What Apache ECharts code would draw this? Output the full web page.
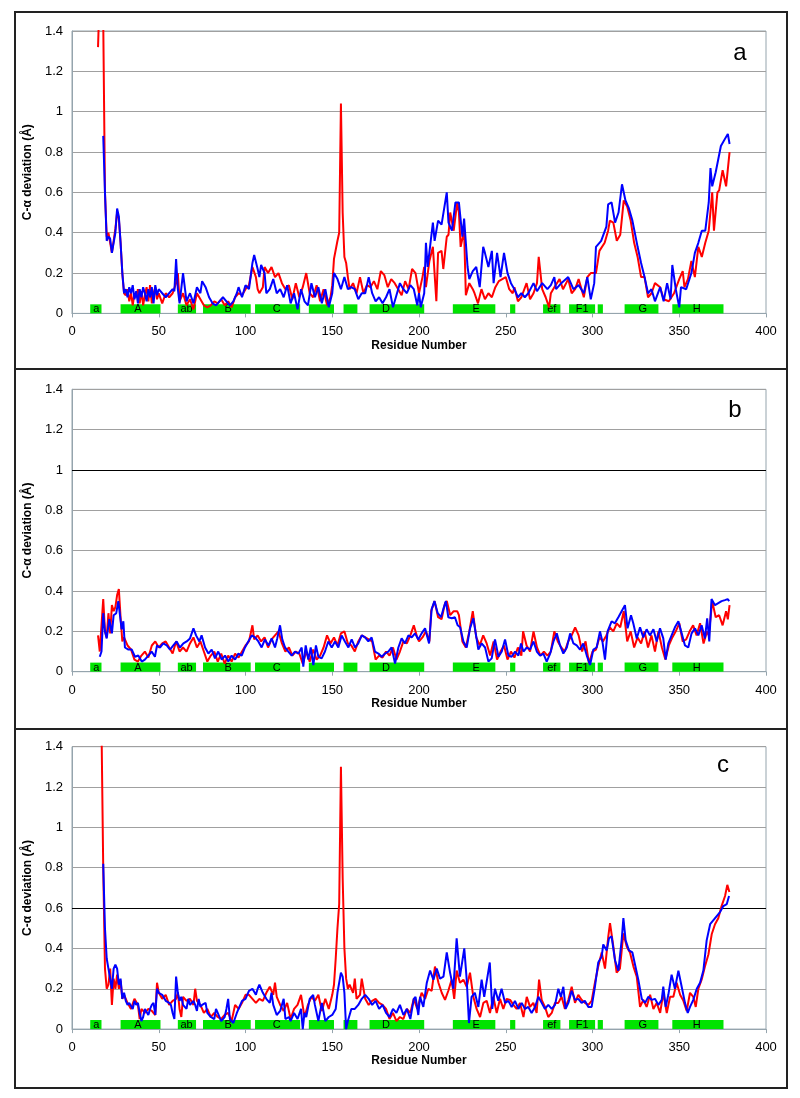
<!DOCTYPE html>
<html><head><meta charset="utf-8">
<script src="https://cdn.jsdelivr.net/npm/echarts@6/dist/echarts.min.js"></script>
<style>html,body{margin:0;padding:0;background:#fff}#c{width:800px;height:1098px}</style>
</head><body><div id="c"></div>
<script>
// Secondary structure elements: [start, end]
const ssRanges = [[10.5,17],[28,51],[61,71.5],[75.5,103],[105.5,131.5],[136.5,151],[156.5,164.5],[171.5,203],[219.5,244],[252.5,255.5],[271.5,281.5],[286.5,301.5],[303,306],[318.5,338],[346,375.5]];
const ssLabels = ['a','A','ab','B','C','','','D','E','','ef','F1','','G','H'];
const ssLabelX = [14,38,66,90,118,0,0,181,233,0,276.5,294,0,329,360];
const xTicks = [0,50,100,150,200,250,300,350,400];
const yTicks = [0,0.2,0.4,0.6,0.8,1,1.2,1.4];
const panelLetters = ['a','b','c'];

const aRed = [[15,1.32],[16,1.6],[17,1.6],[18,1.45],[19,0.6],[20,0.38],[21,0.4],[22,0.4],[23,0.3],[24,0.3],[25,0.42],[26,0.5],[27,0.47],[28,0.35],[29,0.2],[30,0.1],[31,0.09],[32,0.12],[33,0.06],[34,0.1],[35,0.04],[36,0.1],[37,0.08],[38,0.12],[39,0.05],[40,0.11],[41,0.04],[42,0.09],[43,0.13],[44,0.06],[45,0.14],[46,0.05],[47,0.1],[48,0.13],[49,0.07],[50,0.1],[52,0.05],[54,0.1],[56,0.08],[58,0.1],[60,0.15],[61,0.2],[62,0.06],[64,0.1],[66,0.04],[68,0.07],[70,0.02],[72,0.1],[74,0.07],[76,0.04],[78,0.03],[80,0.04],[82,0.06],[84,0.05],[86,0.07],[88,0.04],[90,0.06],[92,0.03],[94,0.08],[96,0.1],[98,0.09],[100,0.12],[102,0.14],[104,0.23],[106,0.18],[107,0.12],[108,0.1],[110,0.13],[111,0.23],[113,0.2],[115,0.23],[117,0.18],[119,0.2],[121,0.15],[123,0.12],[125,0.14],[127,0.07],[129,0.15],[131,0.08],[133,0.13],[135,0.2],[137,0.1],[139,0.08],[141,0.14],[143,0.06],[145,0.12],[147,0.04],[149,0.08],[150,0.14],[151,0.27],[152,0.27],[153,0.36],[154,0.4],[155,1.04],[156,0.5],[157,0.28],[158,0.25],[159,0.18],[160,0.12],[162,0.15],[164,0.1],[166,0.18],[168,0.1],[170,0.14],[172,0.13],[174,0.16],[176,0.12],[178,0.21],[180,0.19],[182,0.13],[184,0.17],[186,0.15],[188,0.12],[190,0.09],[192,0.16],[194,0.12],[196,0.22],[198,0.2],[200,0.1],[202,0.18],[203,0.23],[204,0.13],[206,0.26],[208,0.33],[210,0.06],[211,0.3],[213,0.31],[214,0.22],[216,0.38],[217,0.39],[218,0.5],[220,0.41],[222,0.55],[223,0.5],[224,0.33],[226,0.41],[227,0.09],[229,0.15],[231,0.12],[232,0.1],[234,0.05],[236,0.12],[238,0.07],[240,0.1],[242,0.08],[244,0.13],[246,0.16],[248,0.17],[250,0.18],[252,0.12],[254,0.1],[255,0.13],[257,0.06],[259,0.08],[262,0.15],[264,0.07],[266,0.1],[268,0.15],[269,0.28],[271,0.12],[273,0.08],[275,0.03],[276,0.1],[278,0.13],[281,0.17],[283,0.12],[286,0.17],[288,0.1],[290,0.12],[292,0.17],[295,0.08],[297,0.18],[299,0.2],[302,0.2],[304,0.31],[307,0.35],[309,0.41],[310,0.46],[312,0.45],[314,0.36],[316,0.39],[318,0.56],[320,0.53],[322,0.46],[324,0.35],[326,0.28],[328,0.18],[330,0.18],[332,0.08],[334,0.1],[336,0.15],[339,0.13],[341,0.07],[344,0.06],[347,0.1],[350,0.17],[352,0.21],[353,0.13],[355,0.17],[357,0.26],[359,0.18],[361,0.33],[363,0.28],[365,0.35],[367,0.41],[369,0.6],[370,0.41],[372,0.6],[373,0.61],[375,0.71],[377,0.63],[379,0.8]];
const aBlue = [[18,0.88],[19,0.6],[20,0.36],[21,0.38],[22,0.37],[23,0.3],[24,0.3],[25,0.4],[26,0.52],[27,0.48],[28,0.35],[29,0.2],[30,0.1],[31,0.12],[32,0.08],[33,0.13],[34,0.1],[35,0.14],[36,0.07],[37,0.11],[38,0.05],[39,0.12],[40,0.08],[41,0.13],[42,0.1],[43,0.06],[44,0.12],[45,0.08],[46,0.13],[47,0.05],[48,0.14],[49,0.09],[50,0.12],[52,0.1],[54,0.08],[56,0.1],[58,0.12],[59,0.11],[60,0.27],[61,0.12],[62,0.05],[64,0.2],[66,0.06],[68,0.1],[70,0.05],[72,0.13],[74,0.1],[75,0.16],[77,0.13],[79,0.08],[81,0.05],[83,0.04],[85,0.06],[87,0.08],[89,0.06],[91,0.04],[93,0.06],[95,0.1],[96,0.13],[98,0.08],[100,0.14],[102,0.12],[104,0.25],[105,0.29],[107,0.22],[108,0.18],[109,0.24],[111,0.2],[112,0.1],[114,0.12],[116,0.17],[118,0.1],[120,0.12],[122,0.08],[124,0.14],[126,0.05],[128,0.1],[130,0.02],[132,0.12],[134,0.06],[136,0.04],[138,0.15],[140,0.08],[142,0.13],[144,0.05],[146,0.12],[148,0.03],[150,0.1],[151,0.2],[153,0.17],[155,0.12],[157,0.18],[159,0.12],[161,0.13],[163,0.12],[165,0.07],[167,0.1],[169,0.1],[171,0.18],[173,0.1],[175,0.06],[177,0.08],[179,0.05],[181,0.08],[183,0.12],[185,0.03],[187,0.09],[189,0.15],[191,0.12],[193,0.1],[195,0.14],[197,0.12],[199,0.04],[200,0.1],[201,0.03],[203,0.1],[204,0.35],[205,0.23],[208,0.45],[209,0.36],[211,0.46],[213,0.44],[216,0.6],[217,0.45],[219,0.41],[221,0.55],[223,0.55],[225,0.38],[226,0.47],[228,0.23],[229,0.17],[231,0.21],[233,0.23],[235,0.13],[237,0.33],[238,0.3],[240,0.23],[242,0.31],[243,0.15],[245,0.3],[247,0.18],[249,0.3],[251,0.2],[253,0.15],[255,0.12],[257,0.08],[259,0.1],[261,0.08],[263,0.1],[266,0.15],[268,0.11],[271,0.15],[274,0.12],[276,0.14],[278,0.18],[279,0.12],[282,0.15],[286,0.18],[289,0.12],[292,0.14],[295,0.1],[297,0.18],[299,0.07],[301,0.15],[302,0.33],[305,0.36],[308,0.43],[309,0.54],[311,0.55],[313,0.45],[315,0.5],[317,0.64],[319,0.56],[321,0.52],[323,0.46],[326,0.33],[328,0.25],[330,0.18],[332,0.1],[334,0.12],[336,0.06],[339,0.13],[341,0.06],[343,0.15],[345,0.07],[346,0.24],[348,0.12],[350,0.03],[351,0.13],[354,0.12],[357,0.2],[359,0.3],[361,0.35],[363,0.41],[365,0.41],[367,0.55],[368,0.72],[369,0.63],[371,0.7],[374,0.83],[375,0.83],[378,0.89],[379,0.84]];

const bRed = [[15,0.18],[16,0.1],[18,0.36],[19,0.2],[20,0.17],[21,0.29],[22,0.19],[23,0.33],[24,0.3],[25,0.32],[26,0.38],[27,0.41],[28,0.27],[29,0.15],[30,0.17],[32,0.13],[34,0.11],[36,0.06],[38,0.05],[40,0.08],[42,0.1],[44,0.07],[46,0.13],[48,0.15],[50,0.12],[52,0.14],[54,0.15],[56,0.12],[58,0.09],[60,0.15],[62,0.1],[64,0.12],[66,0.1],[68,0.14],[70,0.17],[72,0.12],[74,0.15],[76,0.1],[78,0.05],[80,0.08],[82,0.1],[84,0.05],[86,0.09],[88,0.04],[90,0.08],[92,0.05],[94,0.09],[96,0.07],[98,0.1],[100,0.13],[102,0.15],[104,0.23],[105,0.16],[107,0.18],[109,0.15],[111,0.17],[113,0.12],[115,0.16],[117,0.18],[119,0.2],[121,0.14],[123,0.1],[125,0.12],[127,0.08],[129,0.1],[131,0.09],[133,0.04],[135,0.1],[137,0.05],[139,0.11],[141,0.06],[143,0.08],[145,0.12],[147,0.18],[149,0.14],[151,0.17],[153,0.13],[155,0.19],[157,0.2],[159,0.14],[161,0.13],[163,0.1],[165,0.15],[167,0.18],[169,0.17],[171,0.16],[173,0.15],[175,0.06],[177,0.08],[179,0.07],[181,0.1],[183,0.08],[185,0.12],[187,0.06],[189,0.1],[191,0.15],[193,0.14],[195,0.18],[197,0.23],[199,0.17],[200,0.15],[202,0.17],[204,0.2],[206,0.15],[207,0.3],[209,0.35],[211,0.27],[213,0.26],[215,0.34],[216,0.35],[218,0.28],[220,0.3],[222,0.3],[223,0.28],[225,0.15],[227,0.12],[229,0.2],[231,0.3],[233,0.17],[235,0.13],[237,0.18],[239,0.14],[241,0.08],[243,0.15],[245,0.06],[247,0.1],[249,0.13],[251,0.06],[253,0.1],[255,0.07],[257,0.12],[259,0.08],[260,0.2],[262,0.13],[264,0.1],[266,0.2],[268,0.12],[270,0.08],[272,0.1],[274,0.08],[276,0.1],[278,0.2],[280,0.15],[282,0.12],[284,0.1],[286,0.15],[288,0.18],[290,0.22],[292,0.18],[294,0.1],[296,0.15],[298,0.04],[300,0.1],[302,0.11],[304,0.17],[306,0.15],[308,0.18],[310,0.22],[312,0.2],[314,0.24],[316,0.22],[318,0.3],[320,0.15],[322,0.2],[324,0.12],[326,0.17],[328,0.14],[330,0.2],[332,0.12],[334,0.18],[336,0.1],[338,0.2],[340,0.12],[342,0.06],[344,0.13],[346,0.17],[348,0.2],[350,0.24],[352,0.15],[354,0.16],[356,0.2],[358,0.23],[360,0.18],[362,0.24],[364,0.14],[366,0.2],[367,0.18],[369,0.35],[371,0.27],[373,0.28],[375,0.23],[377,0.3],[378,0.26],[379,0.33]];
const bBlue = [[16,0.074],[17,0.1],[18,0.29],[19,0.2],[20,0.165],[21.5,0.26],[23,0.19],[24,0.28],[25.5,0.29],[26.7,0.35],[27.7,0.355],[28.6,0.21],[29.6,0.25],[30.5,0.12],[32.5,0.11],[34.4,0.11],[36.3,0.074],[38.2,0.08],[40.2,0.05],[42,0.06],[44,0.08],[45.9,0.1],[47.8,0.074],[49,0.13],[50.7,0.12],[52.6,0.14],[54.6,0.13],[56.5,0.11],[58.4,0.13],[60.3,0.15],[62.2,0.12],[64.2,0.14],[66.1,0.15],[68,0.165],[70,0.215],[71.5,0.18],[73.4,0.15],[74.7,0.18],[76.7,0.12],[78.6,0.09],[80.5,0.11],[82.4,0.066],[84.3,0.1],[86.3,0.06],[88.2,0.08],[90.1,0.05],[92,0.08],[94,0.06],[95.9,0.09],[97.8,0.08],[99.7,0.12],[101.6,0.15],[103.6,0.18],[105.5,0.17],[107.4,0.15],[109.3,0.12],[111.2,0.16],[113.2,0.13],[115.1,0.165],[117,0.12],[118.3,0.165],[119.9,0.23],[121.2,0.16],[122.8,0.12],[124.7,0.1],[126.6,0.08],[128.5,0.1],[130.5,0.09],[132.4,0.12],[133.3,0.025],[134.7,0.13],[136.2,0.06],[137.6,0.12],[139.1,0.033],[140.6,0.13],[142,0.074],[143.9,0.066],[145.8,0.1],[147.7,0.15],[149.7,0.12],[151.6,0.15],[153.5,0.12],[155.4,0.18],[157.3,0.15],[159.3,0.12],[161.2,0.16],[163.1,0.12],[165,0.14],[167,0.18],[168.9,0.17],[170.8,0.15],[172.7,0.17],[174.6,0.1],[176.6,0.09],[178.5,0.074],[180.4,0.09],[182.3,0.1],[184.2,0.12],[186.2,0.04],[188.1,0.12],[190,0.165],[191.9,0.14],[193.9,0.18],[195.8,0.17],[197.7,0.19],[199.6,0.16],[201.5,0.19],[203.5,0.215],[205.8,0.14],[207.3,0.31],[208.9,0.35],[210.8,0.29],[212.7,0.27],[214,0.31],[215.5,0.35],[216.9,0.27],[218.9,0.265],[220.7,0.27],[222.3,0.23],[223.7,0.22],[225.6,0.15],[227.5,0.12],[229.4,0.215],[231.3,0.265],[232.7,0.19],[234.2,0.11],[236.1,0.14],[238.1,0.12],[240,0.05],[241.9,0.066],[243.8,0.16],[245.8,0.074],[247.7,0.1],[249.6,0.16],[251.5,0.08],[253.4,0.074],[255.4,0.1],[257.3,0.08],[258.8,0.14],[260.2,0.1],[262.1,0.12],[264,0.11],[266,0.15],[267.9,0.1],[269.8,0.08],[271.7,0.09],[273.6,0.05],[275.6,0.09],[277.5,0.15],[279.4,0.19],[281.3,0.13],[283.2,0.09],[285.2,0.12],[287.1,0.19],[289,0.14],[290.9,0.13],[292.8,0.11],[294.7,0.14],[296.7,0.08],[298.6,0.033],[300.5,0.11],[302.4,0.12],[304.3,0.2],[305.7,0.15],[307.2,0.06],[308.7,0.2],[311,0.25],[312.9,0.24],[314.9,0.27],[316.8,0.3],[318.7,0.33],[320.2,0.215],[322.2,0.28],[323.5,0.24],[325.5,0.165],[327.4,0.22],[329.3,0.17],[331.2,0.21],[333.1,0.18],[335.1,0.21],[337,0.15],[338.9,0.215],[340.8,0.165],[342.2,0.06],[343.7,0.14],[345.6,0.18],[347.5,0.22],[349.5,0.25],[351.4,0.19],[353.3,0.13],[355.2,0.12],[357.1,0.19],[359.1,0.215],[361,0.18],[362.9,0.23],[364.8,0.165],[366.1,0.265],[367.3,0.15],[368.6,0.36],[370.6,0.33],[372.5,0.34],[374.4,0.35],[376.3,0.355],[377.9,0.36],[378.8,0.35]];

const cRed = [[16,1.6],[17,1.5],[18,0.8],[19,0.3],[20,0.2],[21,0.22],[22,0.3],[23,0.12],[24,0.25],[25,0.2],[26,0.27],[27,0.2],[28,0.24],[29,0.15],[30,0.17],[32,0.13],[34,0.1],[36,0.15],[38,0.12],[39,0.05],[40,0.1],[42,0.08],[44,0.1],[46,0.09],[48,0.07],[49,0.23],[50,0.18],[52,0.15],[54,0.17],[56,0.12],[58,0.14],[60,0.15],[61,0.18],[62,0.1],[63,0.06],[64,0.16],[66,0.14],[68,0.15],[70,0.12],[71,0.2],[72,0.14],[74,0.12],[76,0.08],[78,0.1],[80,0.06],[82,0.08],[84,0.06],[86,0.05],[88,0.07],[90,0.08],[92,0.04],[94,0.12],[96,0.1],[98,0.13],[100,0.17],[102,0.17],[104,0.15],[106,0.13],[108,0.15],[110,0.14],[112,0.18],[114,0.21],[116,0.17],[117,0.23],[118,0.16],[120,0.12],[122,0.09],[124,0.13],[126,0.05],[128,0.1],[130,0.12],[132,0.17],[134,0.06],[136,0.12],[138,0.16],[140,0.14],[142,0.17],[144,0.09],[146,0.15],[148,0.1],[150,0.17],[151,0.22],[152,0.35],[153,0.5],[154,0.62],[155,1.3],[156,0.75],[157,0.4],[158,0.25],[159,0.2],[160,0.22],[162,0.18],[163,0.25],[164,0.15],[166,0.17],[167,0.25],[169,0.15],[171,0.12],[173,0.14],[175,0.15],[177,0.13],[179,0.12],[181,0.1],[183,0.05],[185,0.08],[187,0.04],[189,0.06],[191,0.05],[193,0.1],[195,0.08],[197,0.15],[199,0.1],[201.5,0.18],[203.5,0.15],[205.4,0.2],[207.3,0.19],[209.2,0.31],[211.2,0.23],[213.1,0.18],[215,0.145],[216.9,0.19],[218.8,0.245],[220.3,0.15],[221.7,0.29],[223.6,0.23],[225.6,0.245],[227.5,0.21],[229.4,0.28],[231.3,0.16],[233.2,0.1],[235.2,0.06],[237.1,0.13],[239,0.14],[240.9,0.08],[242.8,0.16],[244.8,0.08],[246.7,0.15],[248.6,0.1],[250.5,0.15],[252.5,0.145],[254.4,0.12],[256.3,0.1],[258.2,0.13],[260.2,0.06],[262.1,0.16],[264,0.11],[265.9,0.13],[267.8,0.08],[269.2,0.245],[270.7,0.145],[272.6,0.11],[274.5,0.06],[276.5,0.08],[278.4,0.13],[280.3,0.13],[282.2,0.16],[284.1,0.1],[286.1,0.145],[288,0.21],[289.9,0.13],[291.8,0.17],[293.7,0.145],[295.6,0.13],[297.6,0.12],[299.5,0.14],[301.4,0.23],[303.3,0.31],[305.3,0.38],[307.2,0.3],[309.1,0.46],[310.1,0.525],[312,0.41],[313.9,0.28],[315.8,0.3],[317.8,0.475],[319.7,0.41],[321.6,0.38],[323.6,0.31],[325.5,0.26],[327.4,0.11],[329.3,0.145],[331.2,0.11],[333.2,0.17],[335.1,0.1],[337,0.13],[339,0.08],[340.8,0.18],[342.8,0.08],[344.7,0.16],[346.6,0.16],[348.5,0.23],[350.5,0.17],[352.4,0.14],[354.3,0.09],[356.2,0.18],[358.1,0.16],[359.5,0.11],[361,0.2],[362.9,0.245],[364.8,0.31],[366.8,0.37],[368.7,0.47],[370.6,0.52],[372.5,0.55],[374.4,0.61],[376.4,0.66],[377.7,0.715],[378.9,0.68]];
const cBlue = [[18,0.82],[19,0.5],[20,0.35],[21,0.3],[22,0.3],[23,0.2],[24,0.3],[25,0.32],[26,0.3],[27,0.22],[28,0.25],[29,0.15],[30,0.18],[31,0.14],[32,0.12],[33,0.13],[34,0.13],[35,0.1],[36,0.14],[37,0.12],[38,0.13],[39,0.08],[40,0.04],[41,0.06],[42,0.1],[44,0.07],[45,0.1],[46,0.12],[47,0.13],[48,0.07],[49,0.2],[50,0.18],[52,0.17],[54,0.14],[56,0.13],[57,0.12],[58,0.08],[59,0.05],[60,0.26],[61,0.18],[62,0.14],[63,0.16],[64,0.12],[66,0.1],[67,0.15],[68,0.12],[70,0.14],[71,0.12],[72,0.09],[73,0.15],[74,0.11],[75,0.12],[77,0.13],[78,0.08],[80,0.06],[82,0.05],[83,0.1],[84,0.08],[86,0.04],[88,0.06],[89,0.1],[90,0.15],[91,0.05],[93,0.03],[95,0.08],[96,0.1],[98,0.14],[100,0.15],[102,0.19],[104,0.2],[106,0.17],[107,0.2],[108,0.22],[110,0.18],[112,0.15],[114,0.13],[115,0.18],[116,0.12],[118,0.07],[120,0.09],[122,0.15],[123,0.05],[125,0.06],[126,0.04],[128,0.08],[130,0.05],[132,0.1],[133,0.0],[134,0.08],[135,0.06],[137,0.15],[139,0.17],[140,0.12],[142,0.04],[144,0.13],[146,0.04],[148,0.06],[150,0.07],[152,0.1],[153,0.18],[155,0.28],[156,0.26],[157,0.18],[158,0.0],[159,0.04],[160,0.07],[161,0.1],[163,0.1],[165,0.12],[167,0.15],[169,0.17],[171,0.15],[173,0.12],[175,0.14],[177,0.1],[179,0.12],[181,0.08],[183,0.06],[185,0.1],[187,0.08],[189,0.12],[191,0.07],[193,0.1],[195,0.05],[197,0.15],[198,0.16],[199.6,0.07],[200.6,0.16],[202.5,0.11],[204.5,0.23],[206.4,0.29],[208.3,0.245],[210.2,0.3],[212.1,0.25],[214.1,0.26],[216,0.38],[217.9,0.28],[219.8,0.2],[221.7,0.45],[223.6,0.26],[226.1,0.4],[227.5,0.245],[228.8,0.03],[230.3,0.16],[232.2,0.18],[234.2,0.11],[236.1,0.245],[237.6,0.16],[238.9,0.23],[240.8,0.33],[242.2,0.1],[243.8,0.2],[245.7,0.14],[247.6,0.2],[249.6,0.13],[251.5,0.14],[253.4,0.11],[255.3,0.14],[257.3,0.1],[259.2,0.13],[261.1,0.1],[263,0.11],[264.9,0.08],[266.9,0.11],[268.8,0.16],[270.7,0.13],[272.6,0.1],[274.5,0.12],[276.5,0.1],[278.4,0.12],[280.3,0.2],[281.8,0.16],[283.2,0.21],[284.5,0.1],[286.1,0.13],[288,0.19],[289.9,0.145],[291.8,0.15],[293.7,0.13],[295.6,0.14],[297.6,0.11],[299.5,0.11],[301.4,0.21],[303.3,0.33],[305.3,0.36],[306.2,0.42],[308.2,0.39],[309.5,0.45],[311,0.46],[313,0.34],[314.9,0.29],[316.8,0.44],[317.8,0.55],[319.1,0.44],[321,0.39],[323,0.38],[324.5,0.32],[326.4,0.245],[328.4,0.15],[330.3,0.13],[332.2,0.16],[334.1,0.145],[336,0.15],[338,0.12],[339.9,0.145],[340.8,0.21],[342.2,0.11],[343.7,0.17],[345.6,0.27],[347.5,0.2],[349.5,0.29],[351.4,0.21],[353.3,0.13],[354.9,0.08],[356.2,0.11],[358.1,0.145],[360.1,0.2],[362,0.23],[363.9,0.29],[365.8,0.44],[367.8,0.52],[369.7,0.54],[371.6,0.56],[373.5,0.58],[375.4,0.61],[377.4,0.62],[378.7,0.66]];

const panels = [
  {red: aRed, blue: aBlue, top: 31, dark: null, letterPos: [740, 53], box: [15, 12, 772, 357]},
  {red: bRed, blue: bBlue, top: 389.3, dark: 1, letterPos: [735, 410], box: [15, 369, 772, 360]},
  {red: cRed, blue: cBlue, top: 746.7, dark: 0.6, letterPos: [723, 765], box: [15, 729, 772, 359]}
];
const FONT = 'Liberation Sans, Arial, sans-serif';
const AXC = '#95a4ad';

const chart = echarts.init(document.getElementById('c'), null, {renderer: 'canvas'});
const grids = [], xAxes = [], yAxes = [], series = [], graphics = [];
panels.forEach((p, i) => {
  grids.push({left: 72, right: 34, top: p.top, height: 282.4, show: true, borderColor: AXC, borderWidth: 1, backgroundColor: 'transparent'});
  xAxes.push({type: 'value', gridIndex: i, min: xTicks[0], max: xTicks[xTicks.length-1], interval: 50,
    name: 'Residue Number', nameLocation: 'middle', nameGap: 24,
    nameTextStyle: {fontFamily: FONT, fontWeight: 'bold', fontSize: 12, color: '#000'},
    axisLine: {show: true, lineStyle: {color: AXC, width: 1}},
    axisTick: {show: true, length: 4, lineStyle: {color: AXC}},
    axisLabel: {fontFamily: FONT, fontSize: 13, color: '#000', margin: 12},
    splitLine: {show: false}});
  yAxes.push({type: 'value', gridIndex: i, min: yTicks[0], max: yTicks[yTicks.length-1], interval: 0.2,
    name: 'C-α deviation (Å)', nameLocation: 'middle', nameGap: 32, nameRotate: 90,
    nameTextStyle: {fontFamily: FONT, fontWeight: 'bold', fontSize: 12, color: '#000'},
    axisLine: {show: true, lineStyle: {color: AXC, width: 1}},
    axisTick: {show: false},
    axisLabel: {fontFamily: FONT, fontSize: 13, color: '#000', margin: 9, formatter: v => String(+v.toFixed(1))},
    splitLine: {show: true, lineStyle: {color: '#a0a0a0', width: 1}}});
  series.push({type: 'custom', xAxisIndex: i, yAxisIndex: i, z: 1, silent: true,
    data: ssRanges.map(r => [r[0], r[1]]),
    encode: {x: [0, 1]},
    renderItem: (params, api) => {
      const p0 = api.coord([api.value(0), 0.045]);
      const p1 = api.coord([api.value(1), 0]);
      const k = params.dataIndex;
      const children = [{type: 'rect', shape: {x: p0[0], y: p0[1], width: p1[0]-p0[0], height: p1[1]-p0[1]}, style: {fill: '#00e300'}}];
      if (ssLabels[k]) {
        const lp = api.coord([ssLabelX[k], 0.02]);
        children.push({type: 'text', style: {text: ssLabels[k], x: lp[0], y: lp[1], align: 'center', verticalAlign: 'middle', fontSize: 11, fontFamily: FONT, fill: '#000'}});
      }
      return {type: 'group', children};
    }});
  series.push({type: 'line', xAxisIndex: i, yAxisIndex: i, z: 3, data: p.red, showSymbol: false, symbol: 'none',
    lineStyle: {color: '#ff0000', width: 2}, clip: true,
    markLine: p.dark === null ? undefined : {silent: true, symbol: 'none', label: {show: false},
      lineStyle: {color: '#000', width: 1, type: 'solid'}, data: [{yAxis: p.dark}], z: 2}});
  series.push({type: 'line', xAxisIndex: i, yAxisIndex: i, z: 4, data: p.blue, showSymbol: false, symbol: 'none',
    lineStyle: {color: '#0000ff', width: 2}, clip: true});
  graphics.push({type: 'rect', shape: {x: p.box[0], y: p.box[1], width: p.box[2], height: p.box[3]}, style: {fill: 'none', stroke: '#222', lineWidth: 2}, z: 10});
  graphics.push({type: 'text', x: p.letterPos[0], y: p.letterPos[1], style: {text: panelLetters[i], align: 'center', verticalAlign: 'middle', fontSize: 24, fontFamily: FONT, fill: '#000'}, z: 10});
});

chart.setOption({animation: false, backgroundColor: '#fff', grid: grids, xAxis: xAxes, yAxis: yAxes, series, graphic: graphics});
</script></body></html>
